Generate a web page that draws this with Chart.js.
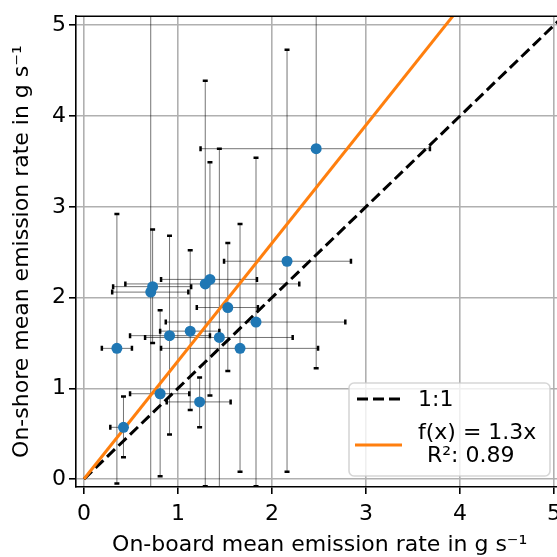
<!DOCTYPE html>
<html>
<head>
<meta charset="utf-8">
<script src="https://cdn.jsdelivr.net/npm/chart.js@4.4.1/dist/chart.umd.min.js"></script>
<style>
  html, body { margin: 0; padding: 0; background: #fff; overflow: hidden; }
  #wrap { width: 600px; height: 557px; }
</style>
</head>
<body>
<div id="wrap"><canvas id="chart" width="600" height="557"></canvas></div>
<script>
// on-board (x) vs on-shore (y) mean emission rate, g/s
const xVals = [0.35, 0.42, 0.71, 0.73, 0.81, 0.91, 1.13, 1.23, 1.29, 1.34, 1.44, 1.53, 1.66, 1.83, 2.16, 2.47];
const yVals = [1.44, 0.57, 2.06, 2.12, 0.94, 1.58, 1.63, 0.85, 2.15, 2.20, 1.56, 1.89, 1.44, 1.73, 2.40, 3.64];
// error bar ends
const xLow  = [0.19, 0.28, 0.30, 0.31, 0.49, 0.49, 0.81, 0.88, 0.44, 0.82, 0.65, 1.20, 0.82, 0.87, 1.49, 1.24];
const xHigh = [0.51, 0.42, 1.11, 1.14, 1.12, 1.34, 1.44, 1.56, 2.29, 1.84, 2.22, 1.85, 2.49, 2.78, 2.84, 3.68];
const yLow  = [-0.05, 0.24, -0.30, 1.50, 0.03, 0.49, 0.76, 0.57, -0.08, 0.92, -0.20, 1.19, 0.08, -0.08, 0.08, 1.22];
const yHigh = [2.92, 0.91, 5.40, 2.75, 1.86, 2.68, 2.52, 1.12, 4.39, 3.49, 3.64, 2.60, 2.81, 3.54, 4.73, 5.40];

// reference lines
const oneToOneX = [0, 5.3];
const oneToOneY = [0, 5.3];
const fitX = [0, 4.2];
const fitY = [0, 5.46];   // f(x) = 1.3x

const xTicks = [0, 1, 2, 3, 4, 5];
const yTicks = [0, 1, 2, 3, 4, 5];

const xTitle = 'On-board mean emission rate in g s\u207B\u00B9';
const yTitle = 'On-shore mean emission rate in g s\u207B\u00B9';
const legendLabels = ['1:1', 'f(x) = 1.3x', ' R\u00B2: 0.89'];

const toPoints = (xs, ys) => xs.map((x, i) => ({ x: x, y: ys[i] }));

Chart.defaults.font.family = '"DejaVu Sans", sans-serif';
Chart.defaults.font.size = 22;
Chart.defaults.color = '#000';

// error bars drawn under the markers
const errorBars = {
  id: 'errorBars',
  beforeDatasetsDraw(chart) {
    const { ctx, chartArea: a, scales: { x, y } } = chart;
    ctx.save();
    ctx.beginPath();
    ctx.rect(a.left, a.top, a.right - a.left, a.bottom - a.top);
    ctx.clip();
    for (let i = 0; i < xVals.length; i++) {
      const px = x.getPixelForValue(xVals[i]);
      const py = y.getPixelForValue(yVals[i]);
      const x0 = x.getPixelForValue(xLow[i]);
      const x1 = x.getPixelForValue(xHigh[i]);
      const y0 = y.getPixelForValue(yLow[i]);
      const y1 = y.getPixelForValue(yHigh[i]);
      ctx.strokeStyle = 'rgba(0,0,0,0.55)';
      ctx.lineWidth = 1;
      ctx.beginPath();
      ctx.moveTo(x0, py); ctx.lineTo(x1, py);
      ctx.moveTo(px, y0); ctx.lineTo(px, y1);
      ctx.stroke();
      // caps
      ctx.strokeStyle = '#000';
      ctx.lineWidth = 2.5;
      ctx.beginPath();
      ctx.moveTo(x0, py - 2.5); ctx.lineTo(x0, py + 2.5);
      ctx.moveTo(x1, py - 2.5); ctx.lineTo(x1, py + 2.5);
      ctx.moveTo(px - 2.5, y0); ctx.lineTo(px + 2.5, y0);
      ctx.moveTo(px - 2.5, y1); ctx.lineTo(px + 2.5, y1);
      ctx.stroke();
    }
    ctx.restore();
  }
};

// top / right spines and the legend box
const frameAndLegend = {
  id: 'frameAndLegend',
  afterDraw(chart) {
    const { ctx, chartArea: a } = chart;
    ctx.save();
    ctx.strokeStyle = '#000';
    ctx.lineWidth = 1.6;
    ctx.beginPath();
    ctx.moveTo(a.left, a.top); ctx.lineTo(a.right, a.top); ctx.lineTo(a.right, a.bottom);
    ctx.stroke();

    // legend (lower right)
    const bx = 349, by = 383, bw = 201, bh = 93, r = 5;
    ctx.beginPath();
    ctx.moveTo(bx + r, by);
    ctx.arcTo(bx + bw, by, bx + bw, by + bh, r);
    ctx.arcTo(bx + bw, by + bh, bx, by + bh, r);
    ctx.arcTo(bx, by + bh, bx, by, r);
    ctx.arcTo(bx, by, bx + bw, by, r);
    ctx.closePath();
    ctx.fillStyle = 'rgba(255,255,255,0.8)';
    ctx.fill();
    ctx.strokeStyle = 'rgba(204,204,204,0.8)';
    ctx.lineWidth = 1.6;
    ctx.stroke();

    ctx.lineWidth = 3;
    ctx.strokeStyle = '#000';
    ctx.setLineDash([11, 5]);
    ctx.beginPath();
    ctx.moveTo(357, 399); ctx.lineTo(401, 399);
    ctx.stroke();
    ctx.setLineDash([]);
    ctx.strokeStyle = '#ff7f0e';
    ctx.beginPath();
    ctx.moveTo(355, 445); ctx.lineTo(402, 445);
    ctx.stroke();

    ctx.fillStyle = '#000';
    ctx.font = '22px "DejaVu Sans"';
    ctx.textBaseline = 'middle';
    ctx.fillText(legendLabels[0], 418, 400);
    ctx.fillText(legendLabels[1], 418, 433);
    ctx.fillText(legendLabels[2], 420, 456);
    ctx.restore();
  }
};

new Chart(document.getElementById('chart'), {
  type: 'scatter',
  data: {
    datasets: [
      {
        label: 'data',
        data: toPoints(xVals, yVals),
        backgroundColor: '#1f77b4',
        borderWidth: 0,
        pointRadius: 5.5,
        order: 0
      },
      {
        label: legendLabels[1],
        data: toPoints(fitX, fitY),
        showLine: true,
        borderColor: '#ff7f0e',
        borderWidth: 3,
        pointRadius: 0,
        order: 1
      },
      {
        label: legendLabels[0],
        data: toPoints(oneToOneX, oneToOneY),
        showLine: true,
        borderColor: '#000',
        borderWidth: 3,
        borderDash: [11, 5],
        pointRadius: 0,
        order: 2
      }
    ]
  },
  options: {
    responsive: false,
    animation: false,
    devicePixelRatio: 1,
    layout: { padding: { top: 13, right: 36.6, left: 0, bottom: 0 } },
    plugins: { legend: { display: false }, tooltip: { enabled: false } },
    scales: {
      x: {
        type: 'linear',
        min: -0.085,
        max: 5.1,
        afterBuildTicks: s => { s.ticks = xTicks.map(v => ({ value: v })); },
        afterFit: s => { s.height = 70; },
        ticks: { padding: 7, maxRotation: 0, color: '#000', font: { size: 22 } },
        grid: { color: '#b0b0b0', lineWidth: 1.6, tickColor: '#000', tickLength: 7, tickWidth: 1.6 },
        border: { color: '#000', width: 1.6 },
        title: { display: true, text: xTitle, color: '#000', font: { size: 22, lineHeight: 1.05 }, padding: { top: 0, bottom: 0 } }
      },
      y: {
        type: 'linear',
        min: -0.0875,
        max: 5.1,
        afterBuildTicks: s => { s.ticks = yTicks.map(v => ({ value: v })); },
        afterFit: s => { s.width = 76; },
        ticks: { padding: 3, color: '#000', font: { size: 22 } },
        grid: { color: '#b0b0b0', lineWidth: 1.6, tickColor: '#000', tickLength: 7, tickWidth: 1.6 },
        border: { color: '#000', width: 1.6 },
        title: { display: true, text: yTitle, color: '#000', font: { size: 22 }, padding: { top: 9, bottom: 0 } }
      }
    }
  },
  plugins: [errorBars, frameAndLegend]
});
</script>
</body>
</html>
